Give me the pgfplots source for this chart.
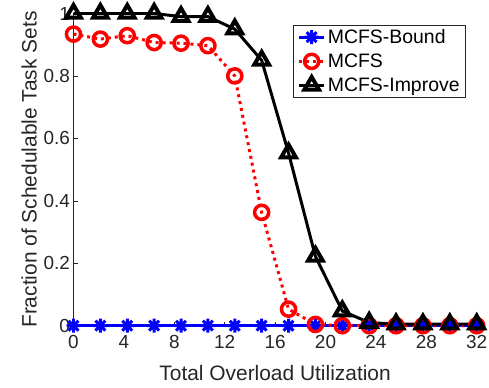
\documentclass[border=0pt]{standalone}
\usepackage{pgfplots}
\pgfplotsset{compat=1.18}
\usepackage{fontspec}
\setmainfont{Liberation Sans}
\definecolor{mgray}{rgb}{0.15,0.15,0.15}
\pgfdeclareplotmark{mstar}{%
  \pgfpathmoveto{\pgfqpoint{0pt}{\pgfplotmarksize}}\pgfpathlineto{\pgfqpoint{0pt}{-\pgfplotmarksize}}%
  \pgfpathmoveto{\pgfqpoint{\pgfplotmarksize}{0pt}}\pgfpathlineto{\pgfqpoint{-\pgfplotmarksize}{0pt}}%
  \pgfpathmoveto{\pgfqpoint{0.707\pgfplotmarksize}{0.707\pgfplotmarksize}}\pgfpathlineto{\pgfqpoint{-0.707\pgfplotmarksize}{-0.707\pgfplotmarksize}}%
  \pgfpathmoveto{\pgfqpoint{0.707\pgfplotmarksize}{-0.707\pgfplotmarksize}}\pgfpathlineto{\pgfqpoint{-0.707\pgfplotmarksize}{0.707\pgfplotmarksize}}%
  \pgfusepathqstroke}
\pgfplotstableread{
x bound mcfs improve
0       0 0.934 1.000
2.1333  0 0.918 1.000
4.2667  0 0.929 1.000
6.4     0 0.907 1.000
8.5333  0 0.905 0.990
10.6667 0 0.897 0.990
12.8    0 0.800 0.950
14.9333 0 0.363 0.850
17.0667 0 0.053 0.553
19.2    0 0.004 0.222
21.3333 0 0.000 0.047
23.4667 0 0.000 0.010
25.6    0 0.000 0.005
27.7333 0 0.000 0.005
29.8667 0 0.000 0.005
32      0 0.000 0.005
}\datatable
\begin{document}
\begin{tikzpicture}
\begin{axis}[
  scale only axis, width=403.2bp, height=312.2bp,
  xmin=0, xmax=32, ymin=0, ymax=1,
  axis lines*=left,
  axis line style={mgray, line width=0.5pt},
  tick style={mgray, line width=0.5pt},
  tick align=inside, major tick length=4bp,
  clip=false,
  xtick={0,4,...,32}, ytick={0,0.2,0.4,0.6,0.8,1},
  /pgf/number format/assume math mode=true,
  tick label style={font=\fontsize{19}{22}\selectfont, text=mgray},
  xticklabel style={yshift=-6bp},
  label style={font=\fontsize{21}{24}\selectfont, text=mgray},
  xlabel={Total Overload Utilization},
  xlabel style={yshift=-10bp},
  ylabel={Fraction of Schedulable Task Sets},
  legend style={at={(0.973,0.963)}, anchor=north east, draw=mgray, line width=0.5pt,
    fill=white, font=\fontsize{19.5}{23}\selectfont, text=black, inner xsep=4bp, inner ysep=2bp,
    row sep=5bp},
  legend cell align=left,
  legend image code/.code={\draw[mark repeat=2,mark phase=2] plot coordinates {(0cm,0cm)(0.45cm,0cm)(0.9cm,0cm)};},
]
\coordinate (o) at (rel axis cs:0,0);
\addplot[blue, line width=3pt, mark=mstar, mark size=7pt, mark options={solid}] table[x=x,y=bound] {\datatable};
\addlegendentry{MCFS-Bound}
\addplot[red, line width=3pt, dash pattern=on 3pt off 4pt, mark=o, mark size=7.1pt, mark options={solid, line width=3.5pt}] table[x=x,y=mcfs] {\datatable};
\addlegendentry{MCFS}
\addplot[black, line width=3pt, mark=triangle, mark size=8.5pt, mark options={solid, line width=4pt}] table[x=x,y=improve] {\datatable};
\addlegendentry{MCFS-Improve}
\end{axis}
\pgfresetboundingbox
\path (o) ++(-73.5bp,-62.3bp) rectangle ++(489bp,388bp);
\end{tikzpicture}
\end{document}
